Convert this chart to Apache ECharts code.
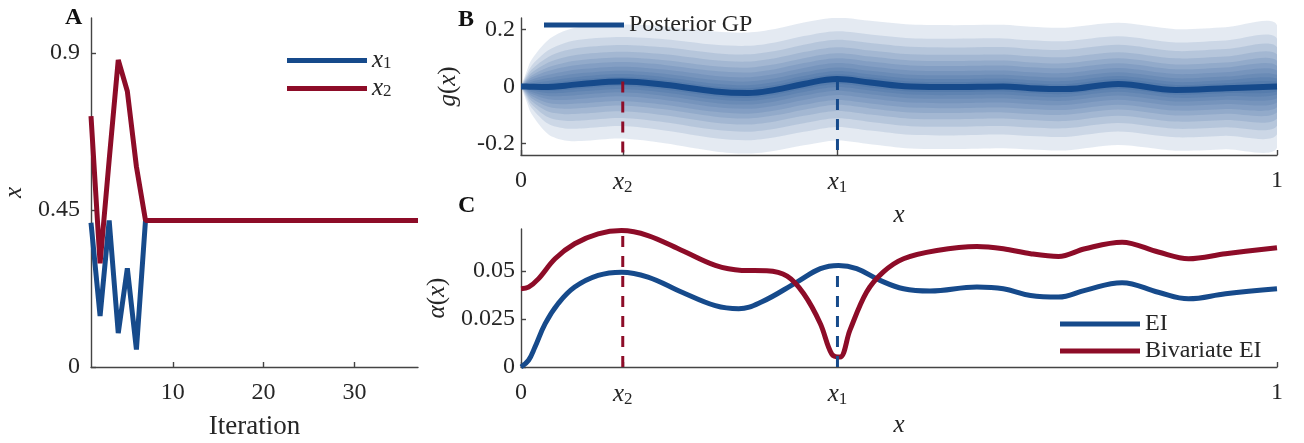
<!DOCTYPE html>
<html>
<head>
<meta charset="utf-8">
<script src="https://cdn.jsdelivr.net/npm/echarts@6/dist/echarts.min.js"></script>
<style>
  html, body { margin: 0; padding: 0; background: #fff; }
  #chart { width: 1304px; height: 443px; }
</style>
</head>
<body>
<div id="chart"></div>
<script>
/* three panels: A iterations, B posterior GP bands, C acquisition functions */

// panel A — x1 / x2 per iteration (iteration = index + 1)
const iterX1 = [0.413, 0.146, 0.42, 0.097, 0.283, 0.05, 0.42, 0.42, 0.42, 0.42,
  0.42, 0.42, 0.42, 0.42, 0.42, 0.42, 0.42, 0.42, 0.42, 0.42,
  0.42, 0.42, 0.42, 0.42, 0.42, 0.42, 0.42, 0.42, 0.42, 0.42,
  0.42, 0.42, 0.42, 0.42, 0.42, 0.42, 0.42];
const iterX2 = [0.719, 0.297, 0.593, 0.88, 0.79, 0.574, 0.42, 0.42, 0.42, 0.42,
  0.42, 0.42, 0.42, 0.42, 0.42, 0.42, 0.42, 0.42, 0.42, 0.42,
  0.42, 0.42, 0.42, 0.42, 0.42, 0.42, 0.42, 0.42, 0.42, 0.42,
  0.42, 0.42, 0.42, 0.42, 0.42, 0.42, 0.42];

// panel B — posterior GP mean and outer half-width of the shaded bands
const gpX = [0, 0.007, 0.014, 0.036, 0.058, 0.08, 0.133, 0.19, 0.257, 0.3, 0.336, 0.374,
  0.418, 0.462, 0.515, 0.572, 0.638, 0.674, 0.72, 0.79, 0.866, 0.932, 1.0];
const gpMean = [0, 0, -0.001, -0.002, 0.003, 0.009, 0.0175, 0.006, -0.0175, -0.023, -0.0117, 0.009,
  0.026, 0.014, 0, -0.002, 0, -0.006, -0.009, 0.009, -0.012, -0.006, 0];
const gpSpread = [0, 0.05, 0.095, 0.165, 0.192, 0.2, 0.2, 0.205, 0.21, 0.212, 0.213, 0.215,
  0.215, 0.216, 0.217, 0.217, 0.216, 0.215, 0.215, 0.214, 0.213, 0.214, 0.215];
const bandFrac = [1, 0.78, 0.64, 0.52, 0.42, 0.34, 0.26, 0.19, 0.13, 0.08];

// panel C — EI and bivariate EI
const eiX = [0, 0.01, 0.0185, 0.032, 0.049, 0.071, 0.102, 0.133, 0.168, 0.213, 0.257, 0.288,
  0.318, 0.365, 0.396, 0.42, 0.444, 0.475, 0.506, 0.541, 0.603, 0.638, 0.674, 0.711,
  0.746, 0.795, 0.843, 0.883, 0.932, 1.0];
const eiY = [0, 0.0035, 0.0104, 0.0226, 0.033, 0.0417, 0.0478, 0.0495, 0.0469, 0.039, 0.032, 0.0304,
  0.0339, 0.0443, 0.0513, 0.053, 0.0513, 0.0452, 0.0408, 0.0396, 0.0417, 0.0408, 0.0373, 0.0365,
  0.04, 0.044, 0.039, 0.0356, 0.0382, 0.0408];
const bivX = [0, 0.01, 0.023, 0.045, 0.071, 0.102, 0.133, 0.168, 0.213, 0.257, 0.292, 0.325,
  0.352, 0.374, 0.396, 0.411, 0.422, 0.435, 0.457, 0.479, 0.506, 0.55, 0.603,
  0.638, 0.674, 0.711, 0.746, 0.795, 0.843, 0.883, 0.932, 1.0];
const bivY = [0.0408, 0.0417, 0.046, 0.0565, 0.0643, 0.0695, 0.0712, 0.0686, 0.0608, 0.053, 0.0504, 0.0502,
  0.0474, 0.0382, 0.0226, 0.0068, 0.0052, 0.0191, 0.039, 0.0495, 0.0565, 0.0608, 0.0629,
  0.0617, 0.0591, 0.0577, 0.0617, 0.0651, 0.06, 0.0565, 0.0591, 0.0622];

// chosen points x1, x2 and the heights the dashed markers reach
const starX = [0.4186, 0.1346];       // x1, x2
const starGp = [0.026, 0.0175];       // mean at x1, x2
const starEi = 0.053;                 // EI at x1
const starBiv = 0.0712;               // bivariate EI at x2

const BLUE = '#164a8b';
const RED = '#8d0c28';
const FONT = 'Liberation Serif';
const TXT = '#262626';
const AX = '#444';

const rich = {
  i: { fontFamily: FONT, fontStyle: 'italic', fontSize: 25, color: TXT },
  r: { fontFamily: FONT, fontSize: 25, color: TXT },
  s: { fontFamily: FONT, fontSize: 17, color: TXT, padding: [10, 0, 0, 0], verticalAlign: 'bottom' },
};

const pairs = (xs, ys) => xs.map((x, i) => [x, ys[i]]);
const near = (a, b) => Math.abs(a - b) < 1e-6;

function axisBase() {
  return {
    type: 'value',
    splitLine: { show: false },
    axisLine: { show: true, onZero: false, lineStyle: { color: AX, width: 1.4 } },
    axisTick: { show: true, inside: true, length: 5, lineStyle: { color: AX, width: 1.4 } },
    axisLabel: { fontFamily: FONT, fontSize: 24, color: TXT, rich },
    nameLocation: 'middle',
    nameTextStyle: { fontFamily: FONT, fontSize: 27, color: TXT, rich },
  };
}

function starLabel(v) {
  if (near(v, 0)) return '0';
  if (near(v, 1)) return '1';
  return near(v, starX[1]) ? '{i|x}{s|2}' : '{i|x}{s|1}';
}

const xTicks = [0, starX[1], starX[0], 1];

function bandSeries() {
  return {
    type: 'custom',
    xAxisIndex: 1, yAxisIndex: 1,
    clip: true,
    silent: true,
    data: bandFrac.map((f, k) => [k]),
    encode: { x: -1, y: -1 },
    renderItem: (params, api) => {
      const f = bandFrac[params.dataIndex];
      const top = gpX.map((x, i) => api.coord([x, gpMean[i] + f * gpSpread[i]]));
      const bot = gpX.map((x, i) => api.coord([x, gpMean[i] - f * gpSpread[i]])).reverse();
      return {
        type: 'polygon',
        shape: { points: top.concat(bot), smooth: 0.3 },
        style: { fill: 'rgba(20,74,140,0.115)' },
      };
    },
  };
}

function dashed(name, xi, yi, pts, color) {
  return {
    name, type: 'line', xAxisIndex: xi, yAxisIndex: yi,
    data: pts, symbol: 'none', silent: true, z: 5,
    lineStyle: { color, width: 3, type: [11, 9] },
  };
}

const chart = echarts.init(document.getElementById('chart'), null, { renderer: 'canvas' });

chart.setOption({
  animation: false,
  backgroundColor: '#fff',
  grid: [
    { left: 91, top: 18, width: 327, height: 349, outerBoundsMode: 'none' },
    { left: 521, top: 18, width: 756, height: 137, outerBoundsMode: 'none' },
    { left: 521, top: 229, width: 756, height: 138, outerBoundsMode: 'none' },
  ],
  xAxis: [
    Object.assign(axisBase(), {
      gridIndex: 0, min: 1, max: 37, name: 'Iteration', nameGap: 46,
      axisTick: Object.assign(axisBase().axisTick, { customValues: [10, 20, 30] }),
      axisLabel: Object.assign(axisBase().axisLabel, { customValues: [10, 20, 30], margin: 14 }),
    }),
    Object.assign(axisBase(), {
      gridIndex: 1, min: 0, max: 1, name: '{i|x}', nameGap: 48,
      axisTick: Object.assign(axisBase().axisTick, { customValues: xTicks }),
      axisLabel: Object.assign(axisBase().axisLabel, { customValues: xTicks, margin: 14, formatter: starLabel }),
    }),
    Object.assign(axisBase(), {
      gridIndex: 2, min: 0, max: 1, name: '{i|x}', nameGap: 46,
      axisTick: Object.assign(axisBase().axisTick, { customValues: xTicks }),
      axisLabel: Object.assign(axisBase().axisLabel, { customValues: xTicks, margin: 14, formatter: starLabel }),
    }),
  ],
  yAxis: [
    Object.assign(axisBase(), {
      gridIndex: 0, min: 0, max: 1, name: '{i|x}', nameGap: 64,
      axisTick: Object.assign(axisBase().axisTick, { customValues: [0, 0.45, 0.9] }),
      axisLabel: Object.assign(axisBase().axisLabel, { customValues: [0, 0.45, 0.9], margin: 11,
        formatter: (v) => (near(v, 0) ? '0' : near(v, 0.45) ? '0.45' : '0.9') }),
    }),
    Object.assign(axisBase(), {
      gridIndex: 1, min: -0.24, max: 0.24, name: '{i|g}{r|(}{i|x}{r|)}', nameGap: 60,
      axisTick: Object.assign(axisBase().axisTick, { customValues: [-0.2, 0, 0.2] }),
      axisLabel: Object.assign(axisBase().axisLabel, { customValues: [-0.2, 0, 0.2], margin: 6,
        formatter: (v) => (near(v, 0) ? '0' : v < 0 ? '-0.2' : '0.2') }),
    }),
    Object.assign(axisBase(), {
      gridIndex: 2, min: 0, max: 0.072, name: '{i|α}{r|(}{i|x}{r|)}', nameGap: 60,
      axisTick: Object.assign(axisBase().axisTick, { customValues: [0, 0.025, 0.05] }),
      axisLabel: Object.assign(axisBase().axisLabel, { customValues: [0, 0.025, 0.05], margin: 6,
        formatter: (v) => (near(v, 0) ? '0' : near(v, 0.025) ? '0.025' : '0.05') }),
    }),
  ],
  legend: [
    {
      data: ['x1', 'x2'], left: 282, top: 43, orient: 'vertical', itemGap: 3,
      icon: 'rect', itemWidth: 80, itemHeight: 5, selectedMode: false,
      formatter: (n) => (n === 'x1' ? '{i|x}{s|1}' : '{i|x}{s|2}'),
      textStyle: { fontFamily: FONT, fontSize: 24, color: TXT, lineHeight: 24, rich },
    },
    {
      data: ['Posterior GP'], left: 539, top: 8, orient: 'vertical',
      icon: 'rect', itemWidth: 80, itemHeight: 5, selectedMode: false,
      textStyle: { fontFamily: FONT, fontSize: 24, color: TXT, lineHeight: 24 },
    },
    {
      data: ['EI', 'Bivariate EI'], left: 1055, top: 307, orient: 'vertical', itemGap: 3,
      icon: 'rect', itemWidth: 80, itemHeight: 5, selectedMode: false,
      textStyle: { fontFamily: FONT, fontSize: 24, color: TXT, lineHeight: 24 },
    },
  ],
  graphic: [
    { type: 'text', left: 65, top: 6, style: { text: 'A', font: `bold 24px "${FONT}"`, fill: '#111' } },
    { type: 'text', left: 458, top: 8, style: { text: 'B', font: `bold 24px "${FONT}"`, fill: '#111' } },
    { type: 'text', left: 458, top: 194, style: { text: 'C', font: `bold 24px "${FONT}"`, fill: '#111' } },
  ],
  series: [
    {
      name: 'x1', type: 'line', xAxisIndex: 0, yAxisIndex: 0, symbol: 'none',
      data: iterX1.map((v, i) => [i + 1, v]),
      itemStyle: { color: BLUE }, lineStyle: { color: BLUE, width: 5 },
    },
    {
      name: 'x2', type: 'line', xAxisIndex: 0, yAxisIndex: 0, symbol: 'none',
      data: iterX2.map((v, i) => [i + 1, v]),
      itemStyle: { color: RED }, lineStyle: { color: RED, width: 5 },
    },
    bandSeries(),
    {
      name: 'Posterior GP', type: 'line', xAxisIndex: 1, yAxisIndex: 1, symbol: 'none', smooth: 0.4,
      data: pairs(gpX, gpMean),
      itemStyle: { color: BLUE }, lineStyle: { color: BLUE, width: 6 },
    },
    {
      name: 'EI', type: 'line', xAxisIndex: 2, yAxisIndex: 2, symbol: 'none', smooth: 0.4,
      data: pairs(eiX, eiY),
      itemStyle: { color: BLUE }, lineStyle: { color: BLUE, width: 5 },
    },
    {
      name: 'Bivariate EI', type: 'line', xAxisIndex: 2, yAxisIndex: 2, symbol: 'none', smooth: 0.35,
      data: pairs(bivX, bivY),
      itemStyle: { color: RED }, lineStyle: { color: RED, width: 5 },
    },
    dashed('gp-x2', 1, 1, [[starX[1], starGp[1]], [starX[1], -0.24]], RED),
    dashed('gp-x1', 1, 1, [[starX[0], starGp[0]], [starX[0], -0.24]], BLUE),
    dashed('biv-x2', 2, 2, [[starX[1], 0], [starX[1], starBiv]], RED),
    dashed('ei-x1', 2, 2, [[starX[0], 0], [starX[0], starEi]], BLUE),
  ],
});
</script>
</body>
</html>
